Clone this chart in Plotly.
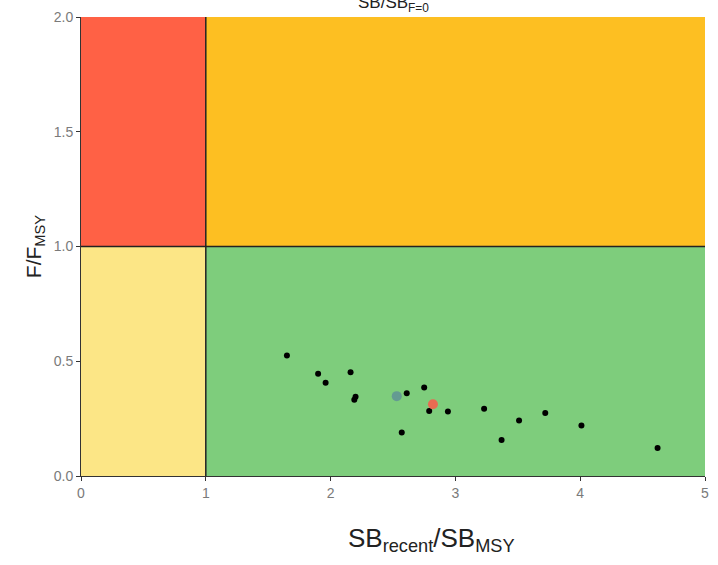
import plotly.graph_objects as go

# Data
sb_ratio = [1.65, 1.90, 1.96, 2.16, 2.20, 2.19, 2.61, 2.75, 2.79, 2.94, 2.57, 3.23, 3.51, 3.37, 3.72, 4.01, 4.62]
f_ratio = [0.525, 0.445, 0.406, 0.452, 0.345, 0.332, 0.361, 0.386, 0.283, 0.281, 0.19, 0.293, 0.242, 0.157, 0.274, 0.22, 0.122]
median_sb = [2.53]
median_f = [0.348]
recent_sb = [2.82]
recent_f = [0.313]
x_ticks = [0, 1, 2, 3, 4, 5]
y_ticks = [0.0, 0.5, 1.0, 1.5, 2.0]
y_ticklabels = ["0.0", "0.5", "1.0", "1.5", "2.0"]

fig = go.Figure()

# Quadrant background
quads = [
    (0, 1, 1, 2, "#FF6145"),
    (1, 5, 1, 2, "#FDBF22"),
    (0, 1, 0, 1, "#FCE686"),
    (1, 5, 0, 1, "#7ECD7C"),
]
for x0, x1, y0, y1, c in quads:
    fig.add_shape(type="rect", x0=x0, x1=x1, y0=y0, y1=y1, fillcolor=c,
                  line=dict(width=0), layer="below")

fig.add_shape(type="line", x0=1, x1=1, y0=0, y1=2, line=dict(color="#222222", width=1.5))
fig.add_shape(type="line", x0=0, x1=5, y0=1, y1=1, line=dict(color="#222222", width=1.5))

fig.add_trace(go.Scatter(x=sb_ratio, y=f_ratio, mode="markers",
                         marker=dict(color="black", size=6), showlegend=False))
fig.add_trace(go.Scatter(x=median_sb, y=median_f, mode="markers",
                         marker=dict(color="#5E8E97", size=10, opacity=0.8), showlegend=False))
fig.add_trace(go.Scatter(x=recent_sb, y=recent_f, mode="markers",
                         marker=dict(color="#F4604E", size=10, opacity=0.9), showlegend=False))

fig.add_annotation(text="SB/SB<sub>F=0</sub>", xref="paper", yref="paper",
                   x=0.5, y=1.0, yanchor="bottom", showarrow=False,
                   font=dict(size=17, color="#222222", family="Liberation Sans"))

fig.add_annotation(text="SB<sub>recent</sub>/SB<sub>MSY</sub>", xref="paper", yref="paper",
                   x=0.561, y=-0.097, yanchor="top", showarrow=False,
                   font=dict(size=26, color="#222222", family="Liberation Sans"))

fig.update_layout(
    width=718, height=565,
    margin=dict(l=81, r=9, t=14, b=89),
    paper_bgcolor="white", plot_bgcolor="white",
    font=dict(family="Liberation Sans"),
)
fig.update_xaxes(range=[0, 5], tickvals=x_ticks, ticks="outside", ticklen=4,
                 tickcolor="#333333", showgrid=False, zeroline=False,
                 showline=True, linecolor="#333333", linewidth=1, mirror=False,
                 tickfont=dict(size=14, color="#7a7a7a"))
fig.update_yaxes(range=[0, 2], tickvals=y_ticks, ticktext=y_ticklabels, ticks="outside",
                 ticklen=4, tickcolor="#333333", showgrid=False, zeroline=False,
                 showline=True, linecolor="#333333", linewidth=1,
                 tickfont=dict(size=14, color="#7a7a7a"),
                 title=dict(text="F/F<sub>MSY</sub>", font=dict(size=21, color="#222222"),
                            standoff=6))

fig.write_html("out.html")
